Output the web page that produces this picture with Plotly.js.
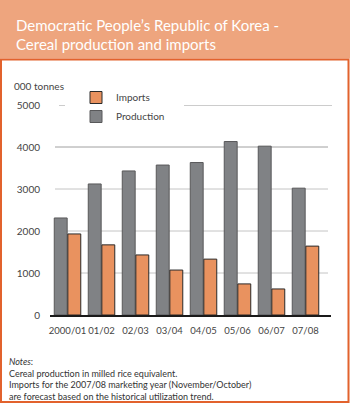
<!DOCTYPE html>
<html><head><meta charset="utf-8">
<script src="https://cdn.plot.ly/plotly-3.0.1.min.js"></script>
<style>html,body{margin:0;padding:0;background:#fff;}#chart{width:350px;height:404px;}</style>
</head><body><div id="chart"></div>
<script>
const categories = ["2000/01","01/02","02/03","03/04","04/05","05/06","06/07","07/08"];
const production = [2310, 3120, 3430, 3570, 3630, 4130, 4020, 3020];
const imports    = [1930, 1670, 1430, 1070, 1330, 740, 620, 1640];
const yTicks = [0, 1000, 2000, 3000, 4000, 5000];

// plot area pixel geometry
const L = 50, R = 331, T = 105, B = 315, W = 350, H = 404;
const px = x => (x - L) / (R - L);
const py = y => (B - y) / (B - T);

const shapes = [
  {type:'rect', xref:'paper', yref:'paper', x0:px(0), x1:px(350), y0:py(0), y1:py(58.5), fillcolor:'#EEA57E', line:{width:0}, layer:'below'},
  {type:'rect', xref:'paper', yref:'paper', x0:px(1), x1:px(348.5), y0:py(59.5), y1:py(402), fillcolor:'rgba(0,0,0,0)', line:{width:2, color:'#E2622D'}, layer:'below'}
];
yTicks.forEach(v => {
  if (v === 0) return;
  if (v === 5000) {
    shapes.push({type:'line', xref:'paper', yref:'y', x0:px(59), x1:px(65), y0:v, y1:v, line:{color:'#9a9a9a', width:1}, layer:'below'});
    shapes.push({type:'line', xref:'paper', yref:'y', x0:px(184), x1:px(332), y0:v, y1:v, line:{color:'#9a9a9a', width:1}, layer:'below'});
  } else {
    shapes.push({type:'line', xref:'paper', yref:'y', x0:px(55), x1:px(328), y0:v, y1:v, line:{color: v===4000 ? '#a0a0a0' : '#c4c4c4', width:1}, layer:'below'});
  }
});

const data = [
  {type:'bar', name:'Production', x:categories, y:production, marker:{color:'#808285', line:{color:'#58585a', width:1}}},
  {type:'bar', name:'Imports', x:categories, y:imports, marker:{color:'#E9925F', line:{color:'#2a2a2a', width:1}}}
];

const layout = {
  width:W, height:H,
  margin:{l:L, r:W-R, t:T, b:H-B, pad:0},
  paper_bgcolor:'rgba(0,0,0,0)', plot_bgcolor:'rgba(0,0,0,0)',
  font:{family:'Lato, "Open Sans", sans-serif', size:10, color:'#444'},
  title:{text:"Democratic People’s Republic of Korea -<br>Cereal production and imports", xref:'container', yref:'container', x:16/W, xanchor:'left', y:1-30.5/H, yanchor:'middle', font:{family:'Lato, "Open Sans", sans-serif', size:15, color:'#ffffff'}},
  barmode:'group', bargap:0.2, bargroupgap:0.05,
  showlegend:true,
  legend:{x:px(76), y:py(83), xanchor:'left', yanchor:'top', traceorder:'reversed', bgcolor:'rgba(0,0,0,0)', font:{size:10, color:'#444'}, tracegroupgap:0},
  xaxis:{type:'category', range:[-0.515, 7.75], tickangle:0, showgrid:false, zeroline:false, showline:true, linecolor:'#1a1a1a', linewidth:2, ticks:'outside', ticklen:6, tickcolor:'rgba(0,0,0,0)', tickfont:{size:9.5, color:'#444'}, fixedrange:true},
  yaxis:{range:[0,5000], tickvals:yTicks, ticktext:yTicks.map(String), showgrid:false, zeroline:false, showline:false, ticks:'outside', ticklen:7, tickcolor:'rgba(0,0,0,0)', tickfont:{size:10, color:'#444'}, fixedrange:true},
  shapes: shapes,
  annotations:[
    {xref:'paper', yref:'paper', x:px(12), y:py(86), xanchor:'left', yanchor:'middle', text:'000 tonnes', showarrow:false, font:{size:10, color:'#444'}},
    {xref:'paper', yref:'paper', x:px(7), y:py(354), xanchor:'left', yanchor:'top', align:'left', showarrow:false, font:{size:9, color:'#333'},
     text:'<i>Notes</i>:<br>Cereal production in milled rice equivalent.<br>Imports for the 2007/08 marketing year (November/October)<br>are forecast based on the historical utilization trend.'}
  ]
};
Plotly.newPlot('chart', data, layout, {staticPlot:true, displayModeBar:false});
</script></body></html>
